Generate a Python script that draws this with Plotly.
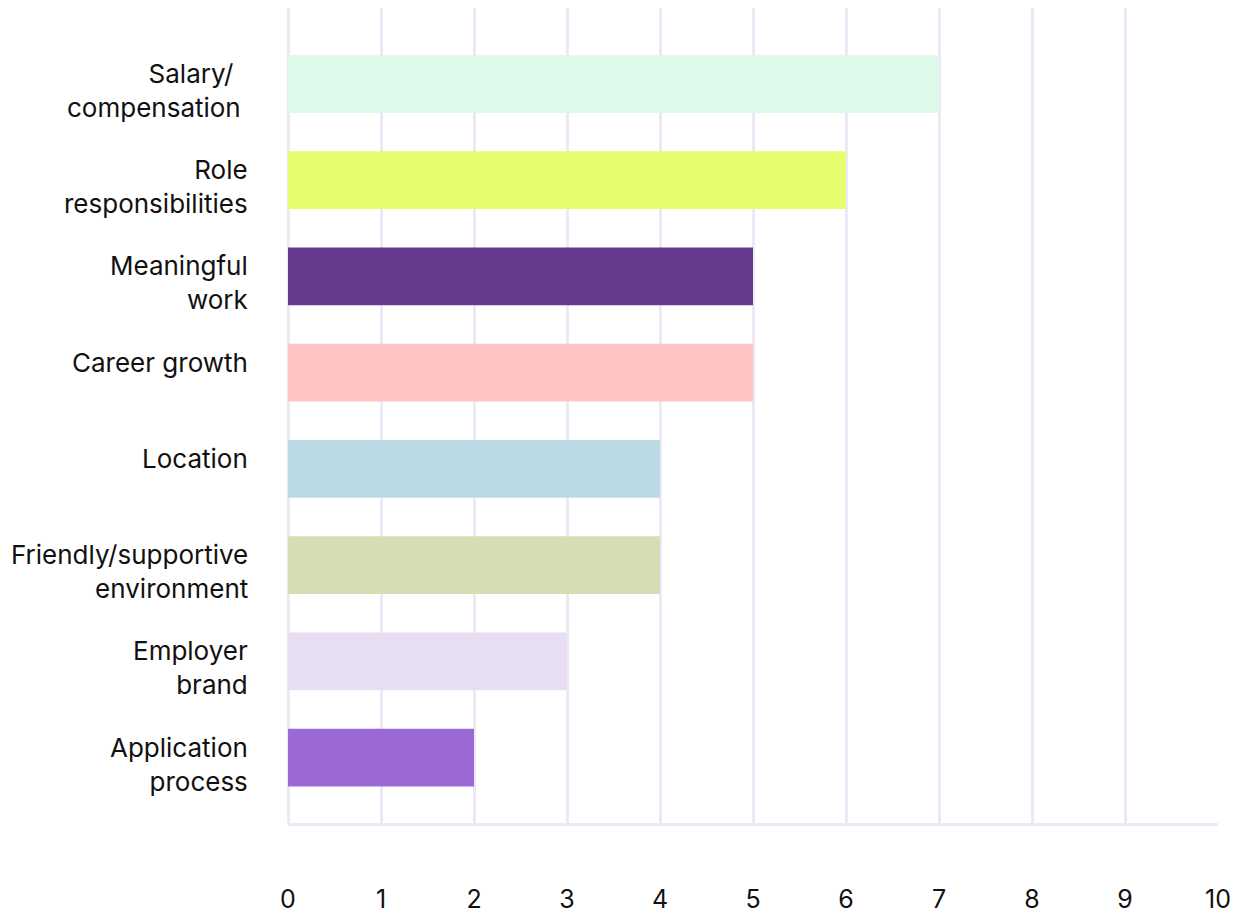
import plotly.graph_objects as go

# Survey factors, listed top to bottom
factors = [
    "Salary/\u00a0\u00a0<br>compensation\u00a0",
    "Role<br>responsibilities",
    "Meaningful<br>work",
    "Career growth",
    "Location",
    "Friendly/supportive<br>environment",
    "Employer<br>brand",
    "Application<br>process",
]
counts = [7, 6, 5, 5, 4, 4, 3, 2]
bar_colors = [
    "#DDF9EA", "#E5FE6F", "#663A8F", "#FFC4C4",
    "#BBDAE4", "#D6DCB3", "#E8DEF1", "#9B69D3",
]
x_ticks = list(range(0, 11))

grid_color = "#EEE8F6"
font_family = "Inter, DejaVu Sans, sans-serif"
text_color = "#111111"

fig = go.Figure(
    go.Bar(
        x=counts,
        y=factors,
        orientation="h",
        marker=dict(color=bar_colors, line=dict(width=0)),
        width=0.6,
        hoverinfo="x+y",
    )
)

# Category labels: right-aligned, top-anchored text left of the plot area
for name in factors:
    fig.add_annotation(
        x=0,
        xref="paper",
        y=name,
        yref="y",
        text=name,
        showarrow=False,
        xanchor="right",
        yanchor="top",
        align="right",
        xshift=-38,
        yshift=28,
        font=dict(family=font_family, size=26, color=text_color),
    )

fig.update_layout(
    width=1240,
    height=915,
    margin=dict(l=288, r=22, t=8, b=92),
    paper_bgcolor="white",
    plot_bgcolor="white",
    showlegend=False,
    font=dict(family=font_family, size=26, color=text_color),
)

fig.update_xaxes(
    range=[0, 10],
    tickvals=x_ticks,
    ticktext=[str(v) for v in x_ticks],
    showgrid=True,
    gridcolor=grid_color,
    gridwidth=2.5,
    zeroline=True,
    zerolinecolor=grid_color,
    zerolinewidth=3,
    showline=True,
    linecolor=grid_color,
    linewidth=3,
    ticks="",
    ticklabelstandoff=52,
    tickfont=dict(size=25),
    automargin=False,
)

fig.update_yaxes(
    categoryorder="array",
    categoryarray=factors,
    range=[7.68, -0.79],
    showgrid=False,
    zeroline=False,
    showline=False,
    showticklabels=False,
    ticks="",
    automargin=False,
)

fig.write_html("out.html")
